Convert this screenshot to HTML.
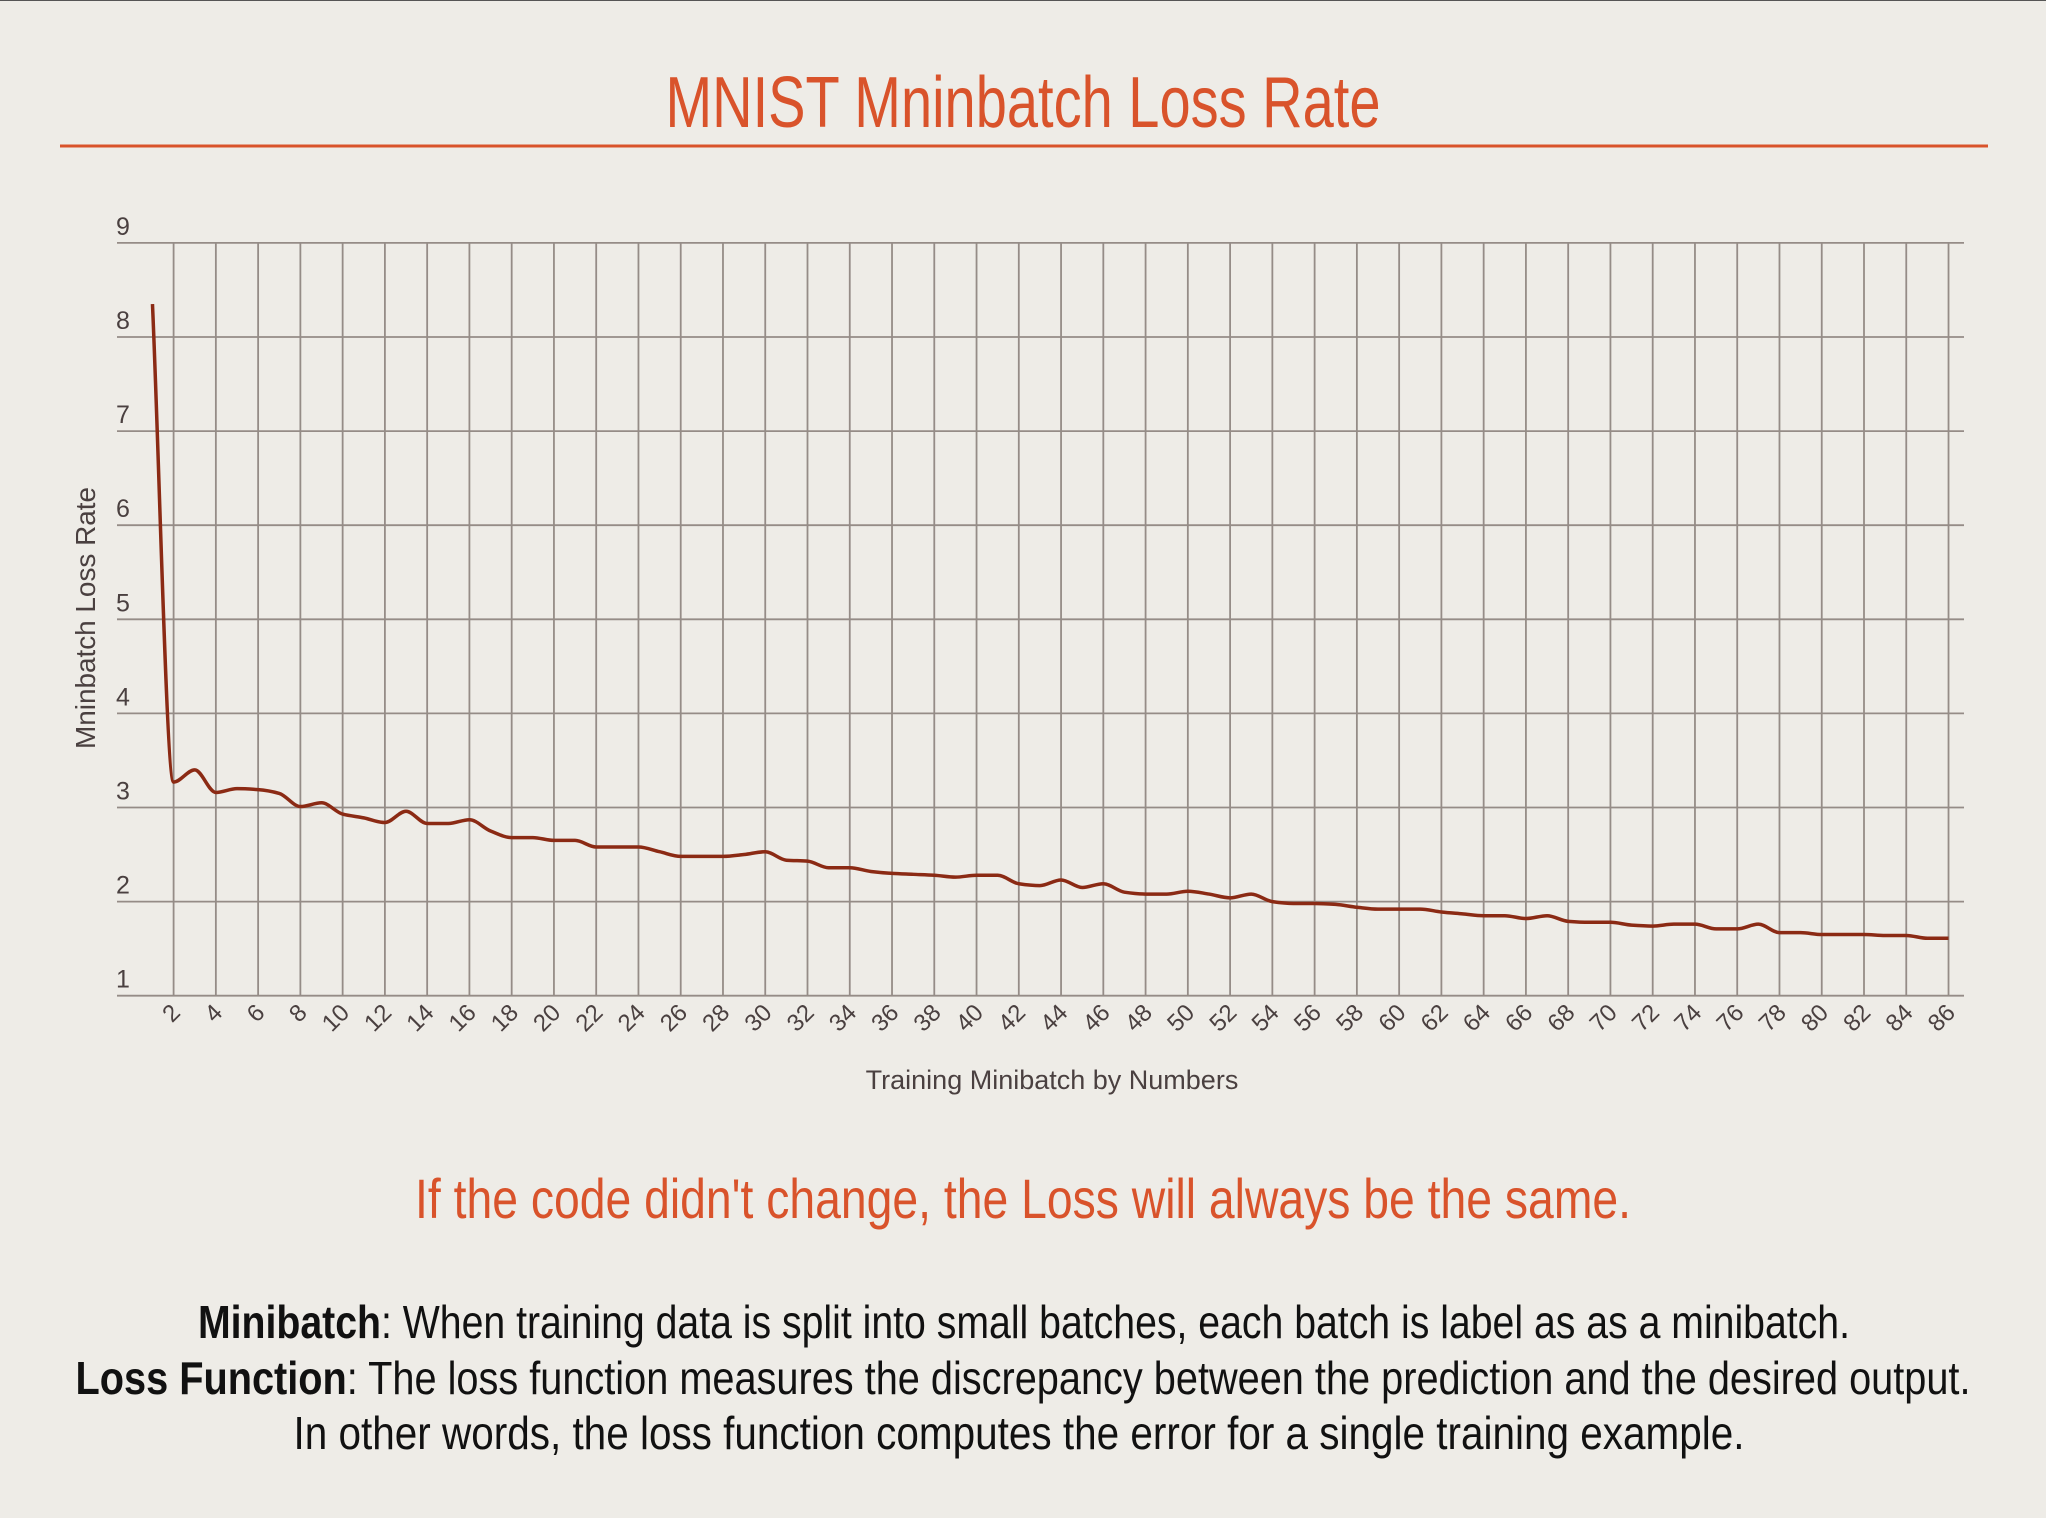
<!DOCTYPE html>
<html><head><meta charset="utf-8"><style>
html,body{margin:0;padding:0;background:#eeece7;}
svg{display:block;font-family:"Liberation Sans Narrow","Liberation Sans",sans-serif;}
</style></head><body>
<svg id="chart" width="2046" height="1518" viewBox="0 0 2046 1518" xmlns="http://www.w3.org/2000/svg">
<rect width="2046" height="1518" fill="#eeece7"/>
<line x1="0" y1="0.5" x2="2046" y2="0.5" stroke="#555" stroke-width="1"/>
<text x="1023" y="127" text-anchor="middle" font-size="72" fill="#d9532b" textLength="715" lengthAdjust="spacingAndGlyphs">MNIST Mninbatch Loss Rate</text>
<line x1="60" y1="146" x2="1988" y2="146" stroke="#d9532b" stroke-width="3"/>
<g id="grid"></g>
<g id="yticks"></g>
<g id="xticks"></g>
<path id="line" fill="none" stroke="#8b2a14" stroke-width="3.5" stroke-linejoin="round"/>
<text transform="translate(95,618) rotate(-90)" text-anchor="middle" font-size="28" fill="#4a4040" textLength="262" lengthAdjust="spacingAndGlyphs">Mninbatch Loss Rate</text>
<text x="1052" y="1089" text-anchor="middle" font-size="27" fill="#4a4040">Training Minibatch by Numbers</text>
<text x="1023" y="1218" text-anchor="middle" font-size="56" fill="#d9532b" textLength="1216" lengthAdjust="spacingAndGlyphs">If the code didn't change, the Loss will always be the same.</text>
<text x="1024" y="1338" text-anchor="middle" font-size="46" fill="#111" textLength="1652" lengthAdjust="spacingAndGlyphs"><tspan font-weight="bold">Minibatch</tspan>: When training data is split into small batches, each batch is label as as a minibatch.</text>
<text x="1023" y="1394" text-anchor="middle" font-size="46" fill="#111" textLength="1895" lengthAdjust="spacingAndGlyphs"><tspan font-weight="bold">Loss Function</tspan>: The loss function measures the discrepancy between the prediction and the desired output.</text>
<text x="1019" y="1449" text-anchor="middle" font-size="46" fill="#111" textLength="1451" lengthAdjust="spacingAndGlyphs">In other words, the loss function computes the error for a single training example.</text>
</svg>
<script>
const yTickLabels = [1,2,3,4,5,6,7,8,9];
const xTickLabels = [2,4,6,8,10,12,14,16,18,20,22,24,26,28,30,32,34,36,38,40,42,44,46,48,50,52,54,56,58,60,62,64,66,68,70,72,74,76,78,80,82,84,86];
const batches = [];
for (let i = 1; i <= 86; i++) batches.push(i);
const lossValues = [8.35,3.27,3.4,3.16,3.2,3.19,3.15,3.01,3.05,2.93,2.89,2.84,2.96,2.83,2.83,2.87,2.75,2.68,2.68,2.65,2.65,2.58,2.58,2.58,2.53,2.48,2.48,2.48,2.5,2.53,2.44,2.43,2.36,2.36,2.32,2.3,2.29,2.28,2.26,2.28,2.28,2.19,2.17,2.23,2.15,2.19,2.1,2.08,2.08,2.11,2.08,2.04,2.08,2.0,1.98,1.98,1.97,1.94,1.92,1.92,1.92,1.89,1.87,1.85,1.85,1.82,1.85,1.79,1.78,1.78,1.75,1.74,1.76,1.76,1.71,1.71,1.76,1.67,1.67,1.65,1.65,1.65,1.64,1.64,1.61,1.61];

const NS = "http://www.w3.org/2000/svg";
const x = v => 173.6 + (v - 2) * 21.13;
const y = v => 995.7 - (v - 1) * 94.1;
const gridL = 117, gridR = 1964;

const grid = document.getElementById('grid');
yTickLabels.forEach(v => {
  const l = document.createElementNS(NS, 'line');
  l.setAttribute('x1', gridL); l.setAttribute('x2', gridR);
  l.setAttribute('y1', y(v)); l.setAttribute('y2', y(v));
  l.setAttribute('stroke', '#958c87'); l.setAttribute('stroke-width', '1.8');
  
  
  grid.appendChild(l);
  const t = document.createElementNS(NS, 'text');
  t.setAttribute('x', 116); t.setAttribute('y', y(v) - 8);
  t.setAttribute('font-size', '25'); t.setAttribute('fill', '#4a4040');
  t.setAttribute('font-family', '"Liberation Sans",sans-serif');
  t.textContent = v;
  
  
  document.getElementById('yticks').appendChild(t);
});
xTickLabels.forEach(v => {
  const l = document.createElementNS(NS, 'line');
  l.setAttribute('x1', x(v)); l.setAttribute('x2', x(v));
  l.setAttribute('y1', y(9)); l.setAttribute('y2', y(1));
  l.setAttribute('stroke', '#958c87'); l.setAttribute('stroke-width', '1.8');
  
  
  grid.appendChild(l);
  const t = document.createElementNS(NS, 'text');
  const tx = x(v) + 8, ty = 1014;
  t.setAttribute('transform', 'translate(' + tx + ',' + ty + ') rotate(-45)');
  t.setAttribute('text-anchor', 'end');
  t.setAttribute('font-size', '24'); t.setAttribute('fill', '#4a4040');
  t.setAttribute('font-family', '"Liberation Sans",sans-serif');
  t.textContent = v;
  
  
  document.getElementById('xticks').appendChild(t);
});
// Monotone cubic interpolation (Fritsch-Carlson)
const pts = batches.map((b, i) => [x(b), y(lossValues[i])]);
const n = pts.length;
const dx = [], sl = [];
for (let i = 0; i < n - 1; i++) { dx.push(pts[i+1][0]-pts[i][0]); sl.push((pts[i+1][1]-pts[i][1])/dx[i]); }
const m = [sl[0]];
for (let i = 1; i < n - 1; i++) {
  if (sl[i-1] * sl[i] <= 0) m.push(0);
  else m.push(3*(dx[i-1]+dx[i]) / ((2*dx[i]+dx[i-1])/sl[i-1] + (dx[i]+2*dx[i-1])/sl[i]));
}
m.push(sl[n-2]);
let d = 'M' + pts[0][0] + ',' + pts[0][1];
for (let i = 0; i < n - 1; i++) {
  const h = dx[i] / 3;
  d += ' C' + (pts[i][0]+h) + ',' + (pts[i][1]+m[i]*h) + ' ' + (pts[i+1][0]-h) + ',' + (pts[i+1][1]-m[i+1]*h) + ' ' + pts[i+1][0] + ',' + pts[i+1][1];
}
document.getElementById('line').setAttribute('d', d);
</script>
</body></html>
